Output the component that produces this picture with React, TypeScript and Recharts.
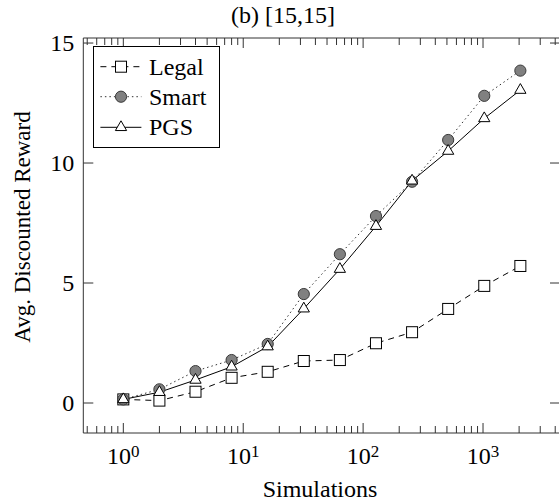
import { LineChart, Line, XAxis, YAxis, Legend } from 'recharts';

const simulations = [1, 2, 4, 8, 16, 32, 64, 128, 256, 512, 1024, 2048];
const legalReward = [0.15, 0.1, 0.47, 1.05, 1.3, 1.75, 1.79, 2.49, 2.95, 3.92, 4.88, 5.71];
const smartReward = [0.15, 0.57, 1.33, 1.79, 2.46, 4.54, 6.2, 7.79, 9.22, 10.96, 12.8, 13.85];
const pgsReward = [0.15, 0.45, 0.96, 1.51, 2.35, 3.93, 5.58, 7.37, 9.26, 10.5, 11.86, 13.04];

const majorXTicks = [1, 10, 100, 1000];
const minorXTicks = [
  0.5, 0.6, 0.7, 0.8, 0.9,
  2, 3, 4, 5, 6, 7, 8, 9,
  20, 30, 40, 50, 60, 70, 80, 90,
  200, 300, 400, 500, 600, 700, 800, 900,
  2000, 3000, 4000,
];
const yTicks = [0, 5, 10, 15];

const seriesNames = ['Legal', 'Smart', 'PGS'];

const data = simulations.map((s, i) => ({
  sims: s,
  legal: legalReward[i],
  smart: smartReward[i],
  pgs: pgsReward[i],
}));

const allXTicks = [...majorXTicks, ...minorXTicks].sort((a, b) => a - b);
const isMajor = (v: number) => majorXTicks.includes(v);

const FONT = "'Liberation Serif', 'Times New Roman', Times, serif";
const FRAME = '#333';
const xDomain = [0.4637, 4385];
const yDomain = [-1.25, 15.21];
const MAJOR_LEN = 10;
const MINOR_LEN = 7;
const PLOT_TOP = 38; // = margin.top, top edge of the frame

function Square({ cx, cy }: { cx: number; cy: number }) {
  return <rect x={cx - 5.5} y={cy - 5.5} width={11} height={11} fill="#fff" stroke="#000" strokeWidth={1} />;
}
function Dot({ cx, cy }: { cx: number; cy: number }) {
  return <circle cx={cx} cy={cy} r={5.6} fill="#808080" stroke="#3a3a3a" strokeWidth={1} />;
}
function Triangle({ cx, cy }: { cx: number; cy: number }) {
  const r = 6.5;
  return (
    <polygon
      points={`${cx},${cy - r} ${cx - r * 0.866},${cy + r / 2} ${cx + r * 0.866},${cy + r / 2}`}
      fill="#fff"
      stroke="#000"
      strokeWidth={1}
    />
  );
}

const markers = [Square, Dot, Triangle];
const lineStyles = [
  { stroke: '#000', dash: '6 5' },
  { stroke: '#333', dash: '1.5 3' },
  { stroke: '#000', dash: undefined },
];

// bottom axis: inward tick marks (bottom + top of frame) and 10^n label on majors
function BottomTick({ x, y, payload }: any) {
  const v = payload.value;
  const major = isMajor(v);
  const len = major ? MAJOR_LEN : MINOR_LEN;
  return (
    <g>
      <line x1={x} x2={x} y1={y} y2={y - len} stroke={FRAME} />
      <line x1={x} x2={x} y1={PLOT_TOP} y2={PLOT_TOP + len} stroke={FRAME} />
      {major && (
        <text x={x} y={y + 31} textAnchor="middle" fontFamily={FONT} fontSize={24} fill="#000">
          10
          <tspan dy={-7} fontSize={17}>
            {Math.round(Math.log10(v))}
          </tspan>
        </text>
      )}
    </g>
  );
}

function LeftTick({ x, y, payload }: any) {
  return (
    <g>
      <line x1={x} x2={x + MAJOR_LEN} y1={y} y2={y} stroke={FRAME} />
      <text x={x - 9} y={y + 8} textAnchor="end" fontFamily={FONT} fontSize={24} fill="#000">
        {payload.value}
      </text>
    </g>
  );
}

function RightTick({ x, y }: any) {
  return <line x1={x} x2={x - MAJOR_LEN} y1={y} y2={y} stroke={FRAME} />;
}

function LegendBox() {
  const rows = [20.7, 50.7, 81.3];
  return (
    <svg width={127} height={102} style={{ display: 'block' }}>
      <rect x={0.5} y={0.5} width={126} height={101} fill="#fff" stroke="#000" strokeWidth={1} />
      {seriesNames.map((name, i) => {
        const M = markers[i];
        const st = lineStyles[i];
        return (
          <g key={name}>
            <line x1={7.4} x2={48.4} y1={rows[i]} y2={rows[i]} stroke={st.stroke} strokeDasharray={st.dash} />
            <M cx={28} cy={rows[i]} />
            <text x={56} y={rows[i] + 8} fontFamily={FONT} fontSize={24} fill="#000">
              {name}
            </text>
          </g>
        );
      })}
    </svg>
  );
}

export default function App() {
  return (
    <div style={{ position: 'absolute', left: 0, top: 0 }}>
      <LineChart width={560} height={504} data={data} margin={{ top: PLOT_TOP, right: 0, bottom: 31, left: 23.3 }}>
        <XAxis
          xAxisId="main"
          dataKey="sims"
          type="number"
          scale="log"
          domain={xDomain}
          allowDataOverflow
          ticks={allXTicks}
          interval={0}
          height={40}
          tickLine={false}
          tickSize={0}
          tickMargin={0}
          tick={<BottomTick />}
          axisLine={{ stroke: FRAME }}
        />
        <XAxis
          xAxisId="top"
          orientation="top"
          type="number"
          domain={[0, 1]}
          ticks={[]}
          height={1}
          mirror
          tick={false}
          tickLine={false}
          axisLine={{ stroke: FRAME }}
        />
        <YAxis
          yAxisId="main"
          type="number"
          domain={yDomain}
          allowDataOverflow
          ticks={yTicks}
          interval={0}
          width={60}
          tickLine={false}
          tickSize={0}
          tickMargin={0}
          tick={<LeftTick />}
          axisLine={{ stroke: FRAME }}
        />
        <YAxis
          yAxisId="right"
          orientation="right"
          type="number"
          domain={yDomain}
          allowDataOverflow
          ticks={yTicks}
          interval={0}
          width={1}
          mirror
          tickLine={false}
          tickSize={0}
          tickMargin={0}
          tick={<RightTick />}
          axisLine={{ stroke: FRAME }}
        />
        {(['legal', 'smart', 'pgs'] as const).map((key, i) => {
          const M = markers[i];
          return (
            <Line
              key={key}
              xAxisId="main"
              yAxisId="main"
              dataKey={key}
              name={seriesNames[i]}
              stroke={lineStyles[i].stroke}
              strokeWidth={1}
              strokeDasharray={lineStyles[i].dash}
              dot={(p: any) => <M key={p.index} cx={p.cx} cy={p.cy} />}
              activeDot={false}
              isAnimationActive={false}
            />
          );
        })}
        <Legend
          layout="horizontal"
          verticalAlign="middle"
          align="center"
          content={() => <LegendBox />}
          wrapperStyle={{ left: 93, top: 46, width: 127, height: 102 }}
        />
        <text x={283} y={23} textAnchor="middle" fontFamily={FONT} fontSize={24} fill="#000">
          (b) [15,15]
        </text>
        <text x={320} y={497} textAnchor="middle" fontFamily={FONT} fontSize={24} fill="#000">
          Simulations
        </text>
        <text
          x={29.5}
          y={227}
          transform="rotate(-90 29.5 227)"
          textAnchor="middle"
          fontFamily={FONT}
          fontSize={23}
          fill="#000"
        >
          Avg. Discounted Reward
        </text>
      </LineChart>
    </div>
  );
}
